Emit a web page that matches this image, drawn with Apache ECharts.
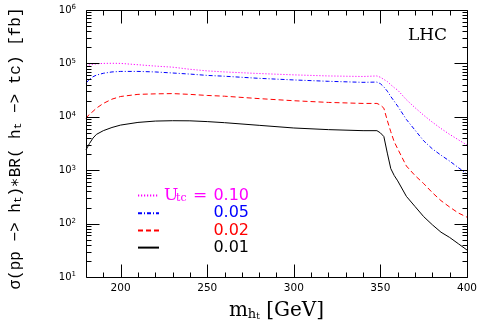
<!DOCTYPE html>
<html><head><meta charset="utf-8">
<script src="https://cdn.jsdelivr.net/npm/echarts@6/dist/echarts.min.js"></script>
<style>html,body{margin:0;padding:0;background:#fff}#c{width:480px;height:327px}</style>
</head><body><div id="c"></div>
<script>
// ---- data ----
const massX = [180,182,184,186,190,195,200,210,220,230,240,250,260,280,300,320,340,348,350,352,354,356,358,360,365,370,375,380,385,390,395,400];
const sigmaU010 = [90000,94000,96500,98000,100000,100500,100000,94400,89100,85000,77600,72400,69200,64600,61000,58200,56900,58200,55000,50100,45700,39800,35100,31600,20900,14800,10700,7940,6030,4680,3720,2950];
const sigmaU005 = [42700,50100,56200,60300,65300,69200,70800,70800,69200,66100,63100,59600,57500,52500,49000,46200,44200,44700,41700,36300,30200,24000,19500,15800,8910,5620,3550,2510,1910,1480,1120,850];
const sigmaU002 = [9330,11200,12600,14500,17800,21400,24000,26300,26900,27200,26300,25100,24300,21900,20000,18600,17800,17800,16600,14500,8510,5250,3390,2510,1200,794,562,380,269,204,158,132];
const sigmaU001 = [2400,3160,3980,4680,5500,6310,7000,7850,8320,8450,8410,8130,7760,6920,6170,5750,5500,5500,5000,4270,2090,1070,794,631,324,209,135,95,69,55,42,32];
const seriesNames = ['0.10','0.05','0.02','0.01'];
const xRange = [180, 400];
const yRange = [10, 1000000];
const xMajorTicks = [200,250,300,350,400];
const xMinorTicks = [190,210,220,230,240,260,270,280,290,310,320,330,340,360,370,380,390];
const yMajorTicks = [10,100,1000,10000,100000,1000000];
const yMinorMantissa = [2,3,4,5,6,7,8,9];

// ---- build ----
const colors = ['#ff00ff','#0000ff','#ff0000','#000000'];
const dashes = [[1.2,1.8],[4,2,1,2],[5,3],'solid'];
const allData = [sigmaU010, sigmaU005, sigmaU002, sigmaU001];
const black = '#000';
const serif = 'DejaVu Serif';
const mono = '"Liberation Mono", "DejaVu Sans Mono", monospace';
const yMinorTicks = [];
yMajorTicks.slice(0, -1).forEach(d => yMinorMantissa.forEach(k => yMinorTicks.push(k * d)));

// frame + inward ticks on all four sides, positioned through the axes' scales
function renderFrame(params, api) {
  const crisp = v => Math.round(v) + 0.5;
  const pA = api.coord([xRange[0], yRange[0]]);
  const pB = api.coord([xRange[1], yRange[1]]);
  const x0 = crisp(pA[0]), y0 = crisp(pA[1]), x1 = crisp(pB[0]), y1 = crisp(pB[1]);
  const ch = [{type:'rect', shape:{x:x0, y:y1, width:x1 - x0, height:y0 - y1},
               style:{fill:'none', stroke:black, lineWidth:1}}];
  const seg = (a, b, c, d) => { ch.push({type:'line', shape:{x1:a, y1:b, x2:c, y2:d}, style:{stroke:black, lineWidth:1}}); };
  const xt = (v, len) => { const x = crisp(api.coord([v, yRange[0]])[0]); seg(x, y0, x, y0 - len); seg(x, y1, x, y1 + len); };
  const yt = (v, len) => { const y = crisp(api.coord([xRange[0], v])[1]); seg(x0, y, x0 + len, y); seg(x1, y, x1 - len, y); };
  xMajorTicks.forEach(v => xt(v, 13));
  xMinorTicks.forEach(v => xt(v, 5));
  yMajorTicks.forEach(v => yt(v, 13));
  yMinorTicks.forEach(v => yt(v, 5));
  return {type:'group', children:ch};
}

const xAxis = {type:'value', min:xRange[0], max:xRange[1],
  axisLine:{show:false, onZero:false}, axisTick:{show:false},
  axisLabel:{show:true, customValues:xMajorTicks, margin:6, fontFamily:'DejaVu Sans', fontSize:10.5, color:black},
  splitLine:{show:false},
  name:'{m|m}{h|h}{t|t}{g| [GeV]}', nameLocation:'middle', nameGap:24,
  nameTextStyle:{rich:{
    m:{fontFamily:serif, fontSize:20, lineHeight:20, color:black},
    h:{fontFamily:serif, fontSize:13, lineHeight:10, verticalAlign:'bottom', color:black},
    t:{fontFamily:serif, fontSize:9, lineHeight:2, verticalAlign:'bottom', color:black},
    g:{fontFamily:serif, fontSize:20, lineHeight:20, color:black}}}
};

const yTitle = '{a|σ(pp −> h}{s|t}{a|)∗BR( h}{s|t}{a| −> tc) [fb]}';
const yAxis = {type:'log', logBase:10, min:yRange[0], max:yRange[1],
  axisLine:{show:false, onZero:false}, axisTick:{show:false},
  axisLabel:{show:true, margin:10, color:black,
    formatter: v => '{b|10}{s|' + Math.round(Math.log10(v)) + '}',
    rich:{b:{fontFamily:'DejaVu Sans', fontSize:10, lineHeight:12, color:black},
          s:{fontFamily:'DejaVu Sans', fontSize:7, lineHeight:6, verticalAlign:'top', color:black}}},
  splitLine:{show:false},
  name:yTitle, nameLocation:'middle', nameRotate:90, nameGap:62,
  nameTextStyle:{padding:[0,10,0,0], rich:{
    a:{fontFamily:mono, fontSize:16, lineHeight:16, color:black},
    s:{fontFamily:mono, fontSize:11, lineHeight:4, verticalAlign:'bottom', color:black}}}
};

const series = seriesNames.map((n, i) => ({
  name:n, type:'line', symbol:'none', showSymbol:false, smooth:false, z:3,
  lineStyle:{color:colors[i], width:1, type:dashes[i]},
  itemStyle:{color:colors[i]},
  data: massX.map((x, j) => [x, allData[i][j]])
}));
series.push({type:'custom', name:'frame', clip:false, z:5,
  renderItem:renderFrame, data:[[xRange[0], yRange[0]]]});

const rich = {
  u:{fontFamily:serif, fontSize:17, lineHeight:17, width:12, color:colors[0]},
  ts:{fontFamily:serif, fontSize:11, lineHeight:3, verticalAlign:'bottom', width:17, color:colors[0]},
  e:{fontFamily:serif, fontSize:17, lineHeight:17, width:14, align:'center', color:colors[0]},
  n0:{fontFamily:'DejaVu Sans', fontSize:16, lineHeight:17, width:42, align:'right', color:colors[0]}
};
[1,2,3].forEach(i => { rich['n'+i] = {fontFamily:'DejaVu Sans', fontSize:16, lineHeight:17, width:85, align:'right', color:colors[i]}; });

const option = {
  animation:false,
  grid:{left:86, right:13, top:10, bottom:50},
  xAxis:xAxis, yAxis:yAxis, series:series,
  legend:{orient:'vertical', left:137, top:187, padding:0, itemWidth:21, itemHeight:17, itemGap:1.2,
    selectedMode:false, data:seriesNames,
    itemStyle:{opacity:0, borderWidth:0},
    formatter: name => { const i = seriesNames.indexOf(name);
      return i === 0 ? '{u|U}{ts|tc}{e|=}{n0|' + name + '}' : '{n' + i + '|' + name + '}'; },
    textStyle:{rich:rich}},
  graphic:[{type:'text', right:33, top:27, style:{text:'LHC', font:'17px "DejaVu Serif"', fill:black}}]
};
const chart = echarts.init(document.getElementById('c'));
chart.setOption(option);
</script></body></html>
